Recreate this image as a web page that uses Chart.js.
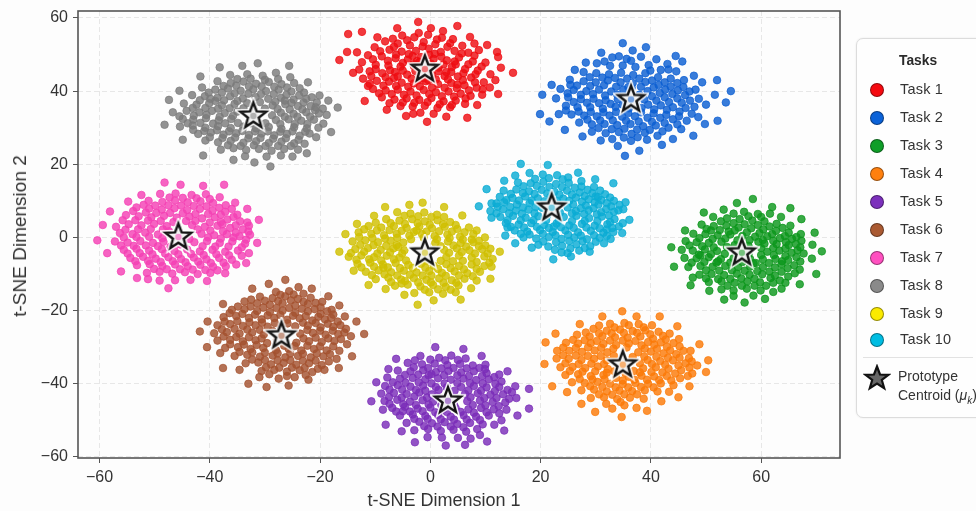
<!DOCTYPE html>
<html>
<head>
<meta charset="utf-8">
<title>t-SNE prototypes</title>
<script src="https://cdn.jsdelivr.net/npm/chart.js@4"></script>
<style>
  html, body { margin: 0; padding: 0; background: #fdfdfd; overflow: hidden; }
  #wrap { position: relative; width: 976px; height: 511px; overflow: hidden; font-family: "Liberation Sans", Arial, sans-serif; filter: blur(0.55px); }
  #grafico { position: absolute; left: 0; top: -8px; }
  .eixoTitulo { position: absolute; color: #333; white-space: nowrap; transform: translate(-50%, -50%); }
  #tituloX { left: 444px; top: 500px; font-size: 18px; }
  #tituloY { left: 20px; top: 236px; font-size: 19px; transform: translate(-50%, -50%) rotate(-90deg); }
  #legenda { position: absolute; left: 856px; top: 38px; width: 130px; height: 378px; border: 1px solid #dcdcdc; border-radius: 7px; background: #fefefe; box-shadow: 0 0 2px #e8e8e8; color: #333; }
  #legenda div { position: absolute; white-space: nowrap; }
  .titulo { left: 42px; top: 12px; font-size: 15px; font-weight: bold; color: #2b2b2b; transform: scaleX(0.92); transform-origin: left; }
  .bola { left: 13px; width: 12px; height: 12px; border-radius: 50%; border: 1px solid rgba(0,0,0,0.4); }
  .rotulo { left: 43px; font-size: 14.5px; letter-spacing: 0.2px; }
  .linha { left: 6px; width: 110px; top: 318px; height: 1px; background: #e2e2e2; }
  .proto { left: 41px; font-size: 14px; }
  #legenda svg { position: absolute; left: 6px; top: 325px; }
</style>
</head>
<body>
<div id="wrap">
  <canvas id="grafico" width="976" height="519"></canvas>
  <div class="eixoTitulo" id="tituloX">t-SNE Dimension 1</div>
  <div class="eixoTitulo" id="tituloY">t-SNE Dimension 2</div>
  <div id="legenda"></div>
</div>
<script>
/* global Chart */
const nomes = ["Task 1", "Task 2", "Task 3", "Task 4", "Task 5", "Task 6", "Task 7", "Task 8", "Task 9", "Task 10"];
const cores = ["#ee0d12", "#0c5fd2", "#0c971c", "#fb7a08", "#7a2db8", "#a4522f", "#f441b4", "#7b7b7b", "#d0bf00", "#0bacd4"];
const coresLegenda = ["#f50a10", "#0b62d8", "#0f9e28", "#ff800f", "#7c30bc", "#aa5a32", "#ff50c0", "#8a8a8a", "#fbea00", "#00bde2"];
const xTicks = [-60, -40, -20, 0, 20, 40, 60];
const yTicks = [-60, -40, -20, 0, 20, 40, 60];
const centroidesX = [-1, 36.4, 56.5, 34.9, 3.2, -27, -45.7, -32.1, -1, 22];
const centroidesY = [46.3, 38, -3.9, -34.5, -44.4, -26.6, 0.4, 33.5, -3.9, 8.4];

const task1 = [[-2.2,58.9],[4.9,57.8],[0.1,57.2],[-6,57.2],[-12.4,56.2],[-14.9,55.6],[2.3,56.4],[7.2,54.8],[10.3,52.6],[12.1,50.7],[12.3,49.3],[15,45],[12.3,39.2],[9.4,39],[8.5,36.2],[6.7,32.7],[2.9,33],[-0.6,31.6],[-4.4,33.2],[-3.1,33.8],[-7.9,34.9],[-11.9,37.3],[-15.1,50.7],[-16.5,48.5],[-14,45],[-11.3,41.4],
[-5.1,55.2],[-2.9,54.7],[-0.4,55.4],[2.1,54.6],[-8.2,53.6],[-5.9,53],[-3.7,52.5],[-1.2,53.4],[0.9,52.8],[3.6,53.1],[5.8,52.4],[-10.1,52],[-7.4,51.3],[-5.2,50.8],[-2.6,51],[-0.3,51.6],[1.9,50.7],[4.4,51],[6.9,50.5],[8.8,51.2],[-11.3,49.8],[-8.8,49.5],[-6.3,49],[-4.1,48.6],[-1.7,49.3],[0.6,48.8],[3,48.4],[5.2,49.2],[7.7,48.1],[10,47.8],[-12.4,47.9],[-9.9,47.2],[-7.6,47],[-5.4,46.7],[-3,46.9],[1.5,46.4],[3.9,46.6],[6.3,46],[8.6,45.6],[10.9,44.6],[-11,45.4],[-8.7,44.9],[-6.4,45.2],[-4.2,44.5],[-1.9,44.2],[0.3,44.4],[2.6,44.1],[5,44],[7.4,43.7],[9.7,42.4],[-12.2,43.4],[-9.7,42.8],[-7.5,42.6],[-5.2,42.3],[-3,42.1],[-0.8,42.7],[1.4,41.9],[3.8,42.2],[6.2,41.6],[8.4,40.9],[10.8,41],[-10.4,40.6],[-8.1,40.2],[-5.9,40.4],[-3.6,39.9],[-1.2,40.3],[1,39.7],[3.3,39.9],[5.5,39.3],[7.3,38.7],[-8.8,38.3],[-6.5,37.7],[-4.3,38],[-2,37.6],[0.2,38.1],[2.4,37.2],[4.6,37.4],[6.3,36.5],[-5.4,35.9],[-3.2,35.8],[-1,36],[1.3,35.4],[3.6,35.6],[-1.8,34.1],[0.6,33.8],[-9.6,54.7],[8,53],[-13.3,50.6],[-12.9,45.9],[12.8,46.4],[11.8,43],[-0.9,46.6],[-3.2,49.6],[2.9,45.2],[-6.6,43.6],[-2,47.9],[4.6,47.3],[-0.3,43],
[-6.8,54.3],[-4.2,53.9],[-2.1,55.9],[1.2,54.1],[4.1,54.2],[-9.1,50.9],[-6.6,52.1],[-3.9,50.1],[-1.4,52.2],[0.8,50.2],[3.1,52.1],[5.7,50.3],[8,49.7],[-10.4,48.7],[-7.7,48.3],[-5,47.7],[-2.4,48.2],[0.1,47.5],[2.4,47.3],[4.4,48.1],[6.9,47.3],[9.3,46.7],[-9.9,46],[-7.3,45.7],[-5,45.6],[-2.7,45.5],[-0.6,45],[1.5,45.4],[3.8,45.2],[6,44.9],[8.2,44.6],[-10.7,44.1],[-8.1,43.8],[-5.9,44],[-3.4,43.4],[-1.2,43.5],[1,43.2],[3.2,43.2],[5.9,43],[8.1,42.4],[-11,42],[-8.5,41.5],[-6.2,41.4],[-4,41.2],[-1.9,41.3],[0.3,41],[2.6,40.9],[4.8,40.8],[7,40.2],[9.5,40.5],[-9.3,39.4],[-7,39.2],[-4.8,39],[-2.5,38.8],[-0.2,39.2],[2.1,38.6],[4.3,38.5],[6.4,38],[-7.4,36.7],[-5,36.9],[-2.9,36.8],[-0.5,37],[1.7,36.4],[3.9,36.2],[-3,47.4],[-0.2,49.9],[2,49.4],[-6.2,50],[4.9,41.8],[-2.2,43]];
const task2 = [[34.9,53.1],[39.1,52],[36.7,51.1],[31,50.5],[44.5,49.6],[45.7,48.1],[28.2,47.8],[26.2,45.8],[22,41.7],[20.3,39],[19.9,33.7],[21.6,31.7],[23.3,33.7],[24.4,29.4],[27.6,27.6],[30.9,26.5],[34,25],[35.3,22.3],[37.9,23.7],[42,25.3],[44,26.9],[47.7,27.8],[49.8,31],[52.1,31.9],[53.6,36.9],[54.5,40],[51.6,39],[52,43],[49.3,42.4],[47.8,44.2],
[33,49.2],[35.6,48.8],[38.2,49.4],[41,48.7],[43,47.4],[30.2,47.6],[32.6,46.9],[34.9,47],[37.2,46.6],[39.6,47.1],[41.8,45.8],[44.6,45.4],[27.8,45.2],[30.1,44.9],[32.4,44.6],[34.6,45],[36.8,44.4],[39,44.9],[41.3,43.8],[43.6,43.4],[46,43],[25.3,43.1],[27.8,42.7],[30,42.4],[32.2,42.9],[34.5,42.4],[36.7,42.2],[39,42.5],[41.4,41.7],[43.6,41.2],[45.9,41.1],[48.1,40.4],[23.6,40.6],[26,40.3],[28.3,40],[30.6,40.4],[32.8,39.9],[35,40.4],[39.4,40],[41.6,39.5],[43.9,39.2],[46.2,38.9],[48.7,37.9],[22.8,38],[25,38.3],[27.3,37.8],[29.6,37.9],[31.8,37.5],[34,37.8],[38.8,37.7],[41,37.4],[43.3,37],[45.6,36.8],[47.9,35.7],[50,36.3],[24.6,36],[26.7,35.6],[29,35.6],[31.3,35.2],[33.6,35.7],[36,35.3],[38.3,35.4],[40.6,35],[42.9,34.9],[45.2,34.4],[47.4,33.8],[25.6,33.6],[27.9,33.3],[30.2,33.1],[32.5,33.3],[34.8,33],[37.1,33.1],[39.4,32.7],[41.7,32.7],[44,32.3],[46.5,31.9],[27,31.4],[29.3,30.9],[31.6,31],[33.9,30.7],[36.3,31],[38.6,30.4],[40.9,30.6],[43.2,30],[45.5,29.6],[29.3,28.9],[31.8,28.5],[34.2,28.8],[36.5,28.3],[38.9,28.6],[41.2,27.8],[33,26.9],[36.4,26.4],[39.3,26.7],[36.5,40.9],[35.9,37],[25.4,41.7],[48.6,32.9],
[31.6,48.1],[34.2,49.5],[36.4,48.3],[39.9,45.6],[43.2,45.9],[28.9,43.8],[31.2,43.7],[33.5,43.6],[35.7,43.4],[37.9,43.4],[40.2,42.9],[42.5,42.4],[44.8,42.2],[26.6,41.5],[29,41.4],[31.5,41.6],[33.7,41.2],[35.9,41.1],[38.2,41.2],[40.5,41],[42.6,40.4],[44.9,40.2],[47,39.9],[24.9,39.4],[27.3,39],[29.5,39.2],[31.7,38.8],[33.9,39],[36.1,39.2],[37.9,39],[40.2,38.6],[42.5,38.3],[44.8,38],[47.1,37.4],[26,37],[28.4,36.8],[30.6,36.7],[32.7,36.5],[34.9,36.3],[37.2,36.6],[39.5,36.3],[41.8,36.1],[44,35.6],[46.3,35.4],[24.6,34.7],[26.9,34.4],[29.1,34.3],[31.4,34.2],[33.7,34.3],[35.9,34],[38.2,34.2],[40.5,33.9],[42.8,33.5],[45.1,33.1],[28.5,32.2],[30.8,32],[33.1,32],[35.5,31.9],[37.8,31.7],[40.2,31.6],[42.5,31.3],[44.8,30.9],[30.5,29.9],[32.9,29.6],[35.2,29.7],[37.5,29.5],[39.8,29.4],[42.1,29],[35.1,27.3],[37.6,27.4]];
const task3 = [[58.5,10.5],[55.6,9.4],[65.3,8],[62,8.3],[49.6,6.8],[67.3,5],[69.7,1.3],[46.2,1.9],[43.7,-2.7],[69.3,-2],[71,-3.8],[44.2,-8],[69.2,-5.8],[70,-10],[67,-12.8],[47.2,-13.1],[50.6,-14.6],[53.3,-17],[57,-17.8],[60.7,-16.8],[63.7,-14],[47.6,-11],
[53.2,7.6],[56.9,7],[59.4,6.4],[61.6,6.5],[63.6,5.6],[51.3,5.6],[53.8,5.2],[56.1,5],[58.4,4.6],[60.6,4.4],[62.8,3.7],[65.3,3.2],[49.2,3.5],[51.4,3.1],[53.7,3.2],[55.9,2.7],[58.2,2.5],[60.4,2.2],[62.7,1.8],[65,1.3],[67.2,0.9],[47.7,1],[49.9,0.9],[52.1,0.6],[54.4,0.8],[56.6,0.4],[58.9,0.2],[61.1,0.3],[63.4,-0.2],[65.6,-0.4],[67.3,-0.9],[46.3,-1],[48.3,-1.3],[50.5,-1.5],[52.8,-1.2],[60.6,-1.7],[62.8,-1.8],[65,-2.1],[67.1,-2.7],[45.6,-3.4],[47.6,-3.6],[49.8,-3.3],[52,-3.7],[61.1,-3.9],[63.3,-3.6],[65.5,-4.2],[67.7,-4.4],[46.1,-5.6],[48.3,-5.7],[50.5,-5.4],[52.7,-5.9],[55,-5.7],[58,-5.9],[60.3,-6],[62.6,-5.9],[64.9,-6.2],[67.1,-6.6],[46.8,-8.1],[49,-7.8],[51.2,-8],[53.5,-7.8],[55.8,-8.1],[58,-8],[60.3,-8.1],[62.5,-8.2],[64.8,-8.4],[67,-8.8],[48.8,-10.2],[51,-10],[53.3,-10.3],[55.6,-9.9],[57.9,-10.2],[60.2,-10.1],[62.5,-10.4],[64.9,-10.7],[50.5,-12.2],[52.8,-12],[55.2,-12.4],[57.5,-12],[59.8,-12.3],[62.2,-12.4],[64.4,-12.4],[52.8,-14.2],[55,-14.5],[57.4,-14],[59.9,-14.5],[62.2,-14.9],[55,-16],[58.6,-15.9],[49,-4.9],[55.2,1.9],[59.5,-1.2],[53.8,-2.6],[58.6,-7.1],[56.4,-11.2],[61.7,-11.1],[51.9,-6.9],[63.7,-7.3],[50.9,1.9],
[55,6.5],[57.7,5.8],[60,5.6],[52.7,4.4],[55,3.9],[57,3.6],[59.4,3.4],[61.5,3],[63.9,2.6],[50.1,2.3],[52.5,2],[54.1,1.6],[57.4,1.4],[59.7,1.2],[62,0.9],[64.3,0.4],[66.4,0.1],[48.8,-0.2],[51.2,-0.4],[53.5,-0.3],[55.7,-0.8],[57.9,-0.7],[60.3,-0.7],[62.2,-0.9],[64.5,-1.3],[66.3,-1.8],[47,-2.2],[49.3,-2.4],[51.4,-2.7],[55.2,-2.1],[57.7,-2.3],[60,-2.9],[62.2,-2.9],[64.4,-3],[66.6,-3.5],[48.7,-4.7],[50.9,-4.6],[53.4,-4.5],[55.5,-4.4],[57.7,-4.6],[60,-4.8],[62.3,-4.8],[64.4,-5.1],[66.4,-5.4],[47.4,-6.9],[49.7,-6.7],[52.2,-6.5],[54.4,-6.9],[56.6,-6.7],[59,-7],[61.4,-7],[63.8,-6.5],[66,-7.6],[50,-9],[52.4,-9.1],[54.7,-9],[57,-9.1],[59.3,-9.2],[61.5,-9.3],[63.7,-9.4],[66.1,-9.8],[50,-11.2],[52.2,-11.4],[54.4,-11.3],[58.8,-11.3],[60.9,-13.2],[63.4,-11.8],[53.9,-13.2],[56.5,-13.2],[58.8,-13.2]];
const task4 = [[34.8,-20.2],[31.2,-21.6],[37.4,-21.6],[41.6,-21.6],[27.1,-23.7],[44.8,-24.3],[22.7,-26.3],[20.9,-28.7],[48.8,-29.2],[20.7,-34.6],[50.4,-33.6],[50,-36.8],[22.1,-40.7],[24.8,-42.3],[47,-40.7],[45,-43.7],[27.4,-45.5],[29.9,-47.7],[34.7,-49.1],[39.3,-47.4],[33,-46.8],[37.4,-46.6],[41.9,-44.8],
[32.6,-23.6],[35.2,-23.4],[37.8,-23.7],[40.2,-24],[29.6,-25],[32,-25.5],[34.4,-25.2],[36.7,-25.6],[39,-25.4],[41.4,-25.8],[43.4,-26.3],[26.6,-26.6],[28.9,-27.1],[31.2,-27],[33.5,-27.3],[35.8,-27.4],[38.1,-27.1],[40.4,-27.7],[42.7,-27.9],[45.1,-27.8],[24.6,-28.8],[26.8,-29],[29.1,-28.9],[31.4,-29.1],[33.7,-29.4],[36,-29],[38.3,-29.5],[40.6,-29.3],[42.9,-29.9],[45.2,-29.8],[47.2,-31],[23,-31],[25.2,-31],[27.5,-31.3],[29.8,-30.9],[32.1,-31.4],[37.7,-31.4],[40,-31.2],[42.3,-31.7],[44.6,-31.9],[46.9,-33],[22.9,-33.1],[25.1,-33.2],[27.4,-33.5],[29.7,-33.2],[32,-33.6],[39.4,-33.5],[41.7,-33.8],[44,-33.6],[46.3,-34.4],[48.4,-35],[23.6,-35.5],[25.8,-35.4],[28.1,-35.7],[30.4,-35.3],[32.2,-36],[38.6,-35.8],[40.9,-35.5],[43.2,-35.9],[45.5,-36.3],[47.5,-37.2],[24.5,-37.6],[26.8,-37.4],[29.1,-37.9],[31.4,-37.6],[33.7,-38.4],[36,-38.1],[38.3,-37.8],[40.6,-38],[42.9,-37.9],[45.3,-38.5],[25.7,-39.6],[28,-39.8],[30.3,-39.5],[32.6,-40],[34.9,-40.1],[37.2,-39.8],[39.5,-40],[41.8,-39.9],[44.1,-40.4],[27.4,-41.8],[29.7,-41.6],[32,-42.1],[34.3,-41.9],[36.6,-42],[38.9,-41.8],[41.2,-42.1],[43.3,-42.2],[29.1,-43.9],[31.5,-43.7],[33.9,-44.2],[36.2,-43.8],[38.7,-44.1],[31.9,-45.5],[35.2,-45.9],[33.4,-36.6],[36.9,-36.5],[26.4,-32.3],[43.1,-32.9],
[30.6,-24.1],[33.4,-24.6],[36,-24],[38.7,-24.6],[28.2,-26],[30.6,-26.2],[32.9,-26.2],[35.1,-26.1],[37.5,-26.1],[39.9,-26.5],[42.2,-26.9],[25.9,-28],[28,-28.1],[30.2,-28.3],[32.6,-28.2],[34.9,-28.2],[37.2,-28.3],[39.5,-28.6],[41.8,-28.7],[44.1,-28.9],[24.1,-30.1],[26.4,-30.2],[28.6,-30.1],[31,-30.2],[33.2,-30.4],[35.6,-30.1],[38.9,-30.4],[41.1,-30.5],[43.5,-30.9],[45.9,-31],[24.1,-32.2],[28.6,-32.4],[30.9,-32.4],[33.3,-32.4],[36.7,-32.7],[38.8,-32.6],[41,-32.6],[45.2,-32.9],[47.4,-33.9],[24.5,-34.4],[26.9,-34.6],[29.2,-34.5],[31.5,-34.6],[38,-34.4],[40.2,-34.6],[42.6,-34.8],[45,-35],[47,-35.6],[25.3,-36.5],[27.6,-36.7],[29.9,-36.6],[32,-37],[35.4,-37.1],[38,-36.9],[40.1,-36.8],[42.1,-36.9],[44.4,-37.2],[46.7,-37.9],[27.1,-38.7],[29.4,-38.8],[31.6,-38.8],[34.9,-39.1],[37,-38.9],[39.3,-38.9],[41.5,-39],[43.7,-39.1],[29,-40.7],[31.2,-40.9],[33.6,-41],[35.9,-41],[38.2,-40.9],[40.5,-41],[30.6,-42.9],[33,-43],[35.2,-42.9],[37.5,-42.9],[34.5,-45]];
const task5 = [[0.9,-30],[6,-30.5],[-6.2,-33.2],[9.3,-32.4],[-7.6,-36],[14,-36.6],[-9.8,-39.6],[17.9,-41.4],[15.4,-40.7],[-10.7,-44.8],[17.9,-46.8],[-8.6,-47.1],[15.8,-48.7],[-8.1,-51.2],[13.4,-52.8],[10.3,-55.8],[9,-54],[6.3,-56.7],[2.8,-56.9],[-2.8,-56],[-5.2,-53],
[-1.8,-32.4],[1.6,-32.9],[3.8,-32.3],[6.4,-33.1],[-4.1,-34.3],[-1.5,-34.7],[0.8,-34.5],[3.1,-34.9],[5.4,-34.6],[7.7,-35],[10,-34.8],[-5.9,-36.4],[-3.6,-36.6],[-1.3,-36.3],[1,-36.8],[3.3,-36.5],[5.6,-36.9],[7.9,-36.6],[10.2,-37.1],[12.5,-37.5],[-7.8,-38.3],[-5.5,-38.6],[-3.2,-38.4],[-0.9,-38.8],[1.4,-38.5],[3.7,-38.9],[6,-38.6],[8.3,-39],[10.6,-38.8],[12.9,-39.4],[-8.2,-40.6],[-5.9,-40.4],[-3.6,-40.8],[-1.3,-40.5],[1,-40.9],[5.6,-40.9],[7.9,-40.6],[10.2,-41],[12.5,-40.9],[14.8,-42.3],[-8.9,-42.7],[-6.6,-42.5],[-4.3,-42.8],[-2,-42.4],[0.3,-42.9],[6.3,-42.8],[8.6,-42.6],[10.9,-43],[13.2,-42.9],[15.6,-43.9],[-8.3,-44.7],[-6,-44.4],[-3.7,-44.9],[-1.4,-44.5],[0.5,-44.9],[6.7,-44.8],[9,-44.6],[11.3,-45],[13.6,-45.1],[-6.9,-46.6],[-4.6,-46.3],[-2.3,-46.8],[0,-46.5],[2.3,-47],[4.6,-46.7],[6.9,-47],[9.2,-46.6],[11.5,-47],[13.8,-47.1],[-5.5,-48.7],[-3.2,-48.4],[-0.9,-48.8],[1.4,-48.5],[3.7,-49],[6,-48.6],[8.3,-49],[10.6,-48.7],[12.9,-50],[-4.3,-50.7],[-2,-50.4],[0.3,-50.8],[2.6,-50.5],[4.9,-51],[7.2,-50.7],[9.5,-51.1],[11.6,-51.2],[-2.9,-52.7],[-0.4,-52.4],[1.9,-52.9],[4.2,-52.6],[6.5,-53.1],[8.5,-52.4],[-0.5,-54.6],[2.1,-54.7],[5,-54.8],[7.3,-55],[3.5,-43.2],[-0.3,-37.7],[4.4,-41.9],[-5,-47.5],[9.9,-36],[-2.6,-41.7],
[-2.8,-33.6],[0,-33.4],[2.7,-33.6],[5,-33.5],[-3,-35.5],[-0.4,-35.7],[2,-35.8],[4.2,-35.7],[6.6,-35.8],[8.9,-35.7],[-4.6,-37.6],[-2.2,-37.5],[0.2,-37.4],[2.5,-37.7],[4.9,-37.7],[7,-37.9],[9.4,-37.9],[11.6,-38.2],[-6.8,-39.6],[-4.5,-39.7],[-2.1,-39.6],[0.2,-39.9],[2.6,-39.9],[4.9,-39.8],[7.2,-39.8],[9.5,-39.9],[11.8,-40],[-7.4,-41.6],[-5.1,-41.6],[-0.9,-41.9],[1.5,-41.7],[3,-41],[6.9,-41.8],[9.2,-41.9],[11.7,-42],[14,-41.7],[-7.5,-43.6],[-5.2,-43.8],[-2.9,-43.5],[-0.6,-43.8],[1.2,-43.5],[7.3,-43.7],[9.8,-43.9],[12,-43.9],[14.3,-44.1],[-7.4,-45.5],[-4.9,-45.6],[-2.6,-45.8],[-0.3,-45.7],[2,-45.8],[4.3,-45.7],[7.7,-45.8],[10,-45.9],[12.4,-46.1],[-6.2,-47.6],[-3.7,-47.6],[-1.4,-47.5],[0.9,-47.8],[3,-47.7],[5.5,-47.7],[7.9,-47.9],[10.2,-47.8],[12.5,-48.1],[-2.9,-49.6],[-0.5,-49.6],[1.9,-49.7],[4.3,-49.8],[6.6,-49.8],[9,-49.9],[-1.1,-51.6],[1.3,-51.7],[3.7,-51.7],[6,-51.9]];
const task6 = [[-26.3,-11.6],[-29.3,-12.7],[-32.3,-14],[-21.5,-14],[-23.9,-13.6],[-37.6,-18.2],[-18.5,-16.1],[-16.5,-18.6],[-40.4,-23],[-13.4,-23],[-41.8,-25.7],[-12,-26.4],[-40.5,-30],[-14.2,-32.5],[-37.6,-35.7],[-16.6,-35.7],[-33,-40],[-29.7,-40.9],[-25.7,-40.5],[-22.1,-38.9],[-34.6,-36.2],[-38.1,-31.6],
[-28,-14.9],[-25.6,-14.7],[-23,-15.4],[-30.9,-16.2],[-28.6,-16.6],[-26.3,-16.1],[-24,-16.8],[-21.7,-16.5],[-19.6,-17.6],[-33.7,-17.5],[-31.4,-18],[-29.1,-18.4],[-26.8,-18],[-24.5,-18.6],[-22.2,-18.2],[-19.9,-19.1],[-17.9,-19.8],[-36,-19.8],[-33.7,-19.6],[-31.4,-20.1],[-29.1,-20.4],[-26.8,-20],[-24.5,-20.6],[-22.2,-20.2],[-19.9,-20.9],[-17.6,-21.1],[-15.5,-21.6],[-37.5,-21.8],[-35.2,-21.5],[-32.9,-22],[-30.6,-22.4],[-28.3,-22],[-26,-22.5],[-23.7,-22.1],[-21.4,-22.7],[-19.1,-22.4],[-16.8,-23],[-38.6,-24],[-36.3,-23.7],[-34,-24.2],[-31.7,-24],[-29.5,-24.4],[-24.5,-24.3],[-22.2,-24.1],[-19.9,-24.6],[-17.6,-24.4],[-15.3,-25],[-39.2,-26.2],[-36.9,-25.9],[-34.6,-26.3],[-32.3,-26],[-30.2,-26.5],[-23.6,-26.3],[-21.3,-26.1],[-19,-26.6],[-16.7,-26.4],[-14.4,-27],[-38.6,-28.2],[-36.3,-28],[-34,-28.4],[-31.7,-28.1],[-29.6,-28.9],[-24.3,-28.8],[-22,-28.4],[-19.7,-28.6],[-17.4,-28.3],[-15.1,-29.2],[-37.2,-30.2],[-34.9,-30],[-32.6,-30.5],[-30.3,-30.2],[-28,-30.8],[-25.7,-30.4],[-23.4,-30.9],[-21.1,-30.5],[-18.8,-30.9],[-16.5,-31],[-35.5,-32.4],[-33.2,-32.1],[-30.9,-32.6],[-28.6,-32.3],[-26.3,-32.8],[-24,-32.4],[-21.7,-32.8],[-19.4,-32.5],[-17,-33.2],[-33.5,-34.4],[-31.2,-34.2],[-28.9,-34.7],[-26.6,-34.3],[-24.3,-34.8],[-22,-34.4],[-19.7,-34.9],[-30.6,-36.5],[-28.3,-36.2],[-26,-36.7],[-23.7,-36.3],[-21.4,-36.8],[-19.2,-36.2],[-31,-38.2],[-27.5,-38.6],[-24.6,-38.2],[-27.1,-24.5],[-27.8,-27.9],
[-27.2,-15.7],[-24.8,-15.6],[-32.5,-17],[-30,-17.3],[-27.6,-17.4],[-25.3,-17.2],[-23,-17.6],[-20.8,-17.9],[-34.9,-18.9],[-32.6,-18.9],[-30.3,-19.2],[-27.9,-19.3],[-25.6,-19.3],[-23.3,-19.5],[-21,-19.6],[-18.7,-20.2],[-36.4,-20.7],[-34.1,-20.9],[-31.8,-21.1],[-29.5,-21.3],[-27.2,-21.2],[-24.9,-21.4],[-22.6,-21.5],[-20.3,-21.7],[-18,-22],[-37.3,-23],[-35,-22.9],[-32.8,-23.2],[-30.5,-23.3],[-28.2,-23.4],[-25.9,-23.5],[-23.1,-23.3],[-20.8,-23.4],[-18.6,-23.6],[-16.3,-24],[-37.8,-25.1],[-35.5,-25],[-33.2,-25.2],[-30.9,-25.3],[-28.6,-25.6],[-22.3,-25.3],[-20,-25.5],[-17.7,-25.5],[-15.6,-26],[-37.5,-27.1],[-35.2,-27.2],[-32.9,-27.3],[-30.6,-27.6],[-23,-27.6],[-20.8,-27.4],[-18.5,-27.6],[-16.2,-27.8],[-36.3,-29.2],[-33.8,-29.3],[-31.5,-29.4],[-26.5,-29.6],[-24.6,-29.7],[-22.3,-29.6],[-20,-29.8],[-17.6,-29.8],[-34.6,-31.3],[-32.3,-31.4],[-30,-31.5],[-27.7,-31.7],[-25.4,-31.7],[-23.1,-31.8],[-20.6,-31.7],[-18.2,-31.9],[-32.3,-33.4],[-30,-33.5],[-27.7,-33.6],[-25.4,-33.6],[-23.1,-33.7],[-20.8,-33.7],[-18.4,-33.9],[-29.8,-35.5],[-27.4,-35.6],[-25.1,-35.6],[-22.8,-35.7],[-20.4,-35.9],[-29.2,-37.4],[-26,-37.9],[-22.6,-37.6]];
const task7 = [[-48.2,15],[-45.3,14.4],[-41.2,14.1],[-37.4,14.4],[-52.4,11.6],[-54.8,9.8],[-58.1,7.1],[-35.4,9.5],[-33.2,7.8],[-59.4,3.4],[-31.1,4.8],[-60.4,-0.8],[-31.4,-1.5],[-58.6,-4.3],[-33.4,-7],[-56.1,-9.3],[-53.2,-11.1],[-47.5,-13.9],[-49.1,-11.8],[-40.5,-11.9],[-37.2,-9.8],[-43.5,-11.6],
[-49,11.9],[-46.2,12],[-43.3,11.6],[-40.7,11.8],[-38.2,11],[-51.1,10],[-48.6,9.7],[-46.3,10.1],[-44,9.6],[-41.7,9.9],[-39.4,9.4],[-37.1,8.8],[-53.3,8.2],[-51,7.9],[-48.7,7.6],[-46.4,8],[-44.1,7.5],[-41.8,7.8],[-39.5,7.3],[-37.2,7],[-35,6.2],[-55.2,6.1],[-52.9,5.8],[-50.6,5.5],[-48.3,5.9],[-46,5.4],[-43.7,5.7],[-41.4,5.2],[-39.1,5.5],[-36.8,4.9],[-34.5,4.4],[-32.9,3.2],[-57,2.9],[-54.7,3.6],[-52.4,3.3],[-50.1,3.7],[-47.8,3.1],[-43.2,3.4],[-40.9,2.9],[-38.6,3.2],[-36.3,2.6],[-34,2.2],[-56.3,1.2],[-54,0.9],[-51.7,1.3],[-49.4,0.8],[-41.5,1],[-39.2,0.6],[-36.9,0.9],[-34.6,0.3],[-32.7,0.7],[-57.2,-1.1],[-54.9,-1.4],[-52.6,-1],[-50.3,-1.5],[-48.4,-1.2],[-42.8,-1.3],[-40.5,-1],[-38.2,-1.5],[-35.9,-1.1],[-33.6,-1.7],[-55.6,-3.4],[-53.3,-3.1],[-51,-3.6],[-48.7,-3.2],[-46.4,-3.7],[-44.1,-3.3],[-41.8,-3.8],[-39.5,-3.4],[-37.2,-3.9],[-34.9,-3.6],[-32.9,-4.3],[-54.4,-5.6],[-52.1,-5.3],[-49.8,-5.8],[-47.5,-5.4],[-45.2,-5.9],[-42.9,-5.5],[-40.6,-6],[-38.3,-5.6],[-36,-6.1],[-53.2,-7.6],[-50.9,-7.3],[-48.6,-7.8],[-46.3,-7.4],[-44,-7.9],[-41.7,-7.5],[-39.4,-8],[-37.1,-7.9],[-51.4,-9.7],[-49.1,-9.4],[-46.8,-9.9],[-44.5,-9.5],[-42.2,-10],[-39.9,-9.7],[-46.3,-11.7],[-51.2,-11.4],[-47.4,1.7],[-43.7,-0.4],[-49.7,6.7],[-42.6,4.5],[-45.4,-1.9],[-38,4.2],
[-47.3,10.9],[-44.9,10.8],[-42.4,10.7],[-40,10.5],[-52,8.9],[-49.9,8.7],[-47.5,8.8],[-45.2,8.7],[-42.9,8.6],[-40.6,8.5],[-38.3,8.1],[-36,7.8],[-53.9,7.2],[-51.6,6.8],[-47.2,6.7],[-44.9,6.6],[-42.6,6.4],[-40.3,6.4],[-38,6.2],[-35.7,5.6],[-55.8,4.7],[-53.5,4.7],[-51.2,4.6],[-48.9,4.5],[-46.6,4.2],[-44.3,4.5],[-40,4.1],[-37.7,3.6],[-35.3,3.3],[-33.2,4.1],[-55.3,2.1],[-53,2.2],[-50.7,2.3],[-48.5,2.2],[-42.2,2.2],[-39.9,1.9],[-37.6,1.7],[-35.3,1.3],[-33,1.6],[-55.6,0],[-53.3,0.1],[-51,0.2],[-48.6,-0.2],[-40.3,0],[-38,-0.3],[-35.7,0],[-33.4,-0.6],[-56.1,-2.2],[-53.8,-2.3],[-51.6,-2.2],[-49.4,-2.4],[-47.1,-2.5],[-41.3,-2.4],[-39,-2.5],[-36.6,-2.5],[-34.2,-2.7],[-54.9,-4.4],[-52.7,-4.3],[-50.4,-4.6],[-48.1,-4.4],[-45.7,-4.6],[-43.4,-4.5],[-41.1,-4.8],[-38.8,-4.6],[-36.5,-4.9],[-34.2,-5],[-53.5,-6.5],[-51.2,-6.4],[-48.9,-6.7],[-46.7,-6.5],[-44.4,-6.8],[-42.1,-6.6],[-39.8,-7],[-37.5,-6.9],[-35.2,-7.4],[-50.1,-8.6],[-47.8,-8.7],[-45.4,-8.7],[-43.1,-8.8],[-40.8,-8.9],[-38.6,-9]];
const task8 = [[-31.3,47.6],[-34.1,46.9],[-38.2,46.5],[-25.6,46.9],[-41.7,44],[-22.2,42.4],[-45.5,40.1],[-20.1,38.8],[-47.4,37.6],[-18.5,37.4],[-16.8,35.5],[-46.7,34.2],[-48.2,30.8],[-18.8,33.5],[-18,28.8],[-44.9,26.7],[-41.2,22.4],[-20.7,27.4],[-22.4,23],[-25,22.1],[-29,19.4],[-31.9,20.5],[-35.7,21.2],
[-36.3,44.4],[-33.2,44.6],[-30.4,44.2],[-28,45],[-25.4,43.8],[-38.6,42.7],[-36.2,42.2],[-33.9,42.6],[-31.6,42],[-29.3,42.5],[-27,41.9],[-24.7,42.2],[-41.4,41],[-39,40.4],[-36.7,40.7],[-34.4,40.1],[-32.1,40.5],[-29.8,40],[-27.5,40.4],[-25.2,39.9],[-22.9,39.6],[-43.2,38.9],[-40.9,38.6],[-38.6,38.2],[-36.3,38.6],[-34,38],[-31.7,38.4],[-29.4,37.9],[-27.1,38.2],[-24.8,37.7],[-22.5,37.9],[-20.6,36.9],[-44.7,36.6],[-42.4,36.3],[-40.1,36.7],[-37.8,36.1],[-35.5,36.5],[-28.6,36.1],[-26.3,36.4],[-24,35.9],[-21.7,35.9],[-19.5,35.2],[-44.9,32.4],[-44.2,34.6],[-41.9,34.2],[-39.6,34.6],[-37.3,34],[-27.1,34.1],[-24.8,33.8],[-22.5,34.2],[-20.2,33.9],[-43,32.2],[-40.7,32.6],[-38.4,32],[-36.1,32.4],[-28,32.1],[-25.7,32.3],[-23.4,31.9],[-21.1,32.2],[-19.4,31.1],[-45.4,30.3],[-43.1,30.6],[-40.8,30],[-38.5,30.4],[-36.2,29.9],[-33.9,30.3],[-31.6,29.8],[-29.3,30.2],[-27,29.7],[-24.7,30.1],[-22.4,29.8],[-20.3,30],[-42.1,28.3],[-39.8,28.7],[-37.5,28.1],[-35.2,28.5],[-32.9,28],[-30.6,28.4],[-28.3,27.9],[-26,28.3],[-23.7,27.8],[-21.9,28.4],[-40.8,26.5],[-38.5,26],[-36.2,26.4],[-33.9,25.9],[-31.6,26.3],[-29.3,25.8],[-27,26.2],[-24.7,25.7],[-22.8,25.6],[-38,24],[-35.7,24.4],[-33.4,23.9],[-31.1,24.2],[-28.8,23.7],[-26.5,24.2],[-24,24],[-33.6,22.2],[-29.7,22.1],[-27.1,22.4],[-35,34.4],[-26.4,37.4],[-39,37.3],[-33.2,36.7],
[-35,43.3],[-32.6,43.4],[-30,43.1],[-27.6,43.3],[-37.5,41.4],[-35.2,41.5],[-32.9,41.3],[-30.6,41.3],[-28.3,41.2],[-26,41],[-23.7,40.8],[-40.2,39.6],[-37.8,39.6],[-35.5,39.4],[-33,39.3],[-30.7,39.2],[-28.4,39.2],[-26.1,39],[-23.8,38.8],[-21.5,38.3],[-41.8,37.5],[-39.9,37.9],[-37.4,37.5],[-35,37.3],[-30.9,37],[-28.1,37.1],[-25.2,36.8],[-23,36.9],[-20.8,35.6],[-43.1,35.4],[-40.8,35.4],[-38.5,35.2],[-36.4,35.3],[-33.9,35.3],[-30,35.2],[-27.7,35.1],[-25.5,35],[-23.2,35],[-20.9,34.8],[-45.5,33.1],[-42.9,33.3],[-40.6,33.5],[-38.2,33],[-35.8,33.2],[-28.7,33.4],[-26.4,33],[-24.1,33],[-21.8,33],[-44,31.2],[-41.7,31.3],[-39.4,31.1],[-37.2,31.2],[-34.9,31.3],[-32.5,31.2],[-29.9,31.2],[-27.2,31],[-24.6,31],[-22.3,31],[-43,29.4],[-41,29.1],[-38.7,29.3],[-36.5,29],[-34.1,29.1],[-31.8,29],[-29.5,29],[-27.2,28.9],[-25,29],[-22.7,28.9],[-40,27.4],[-37.7,27.2],[-35.4,27.3],[-33,27.1],[-30.8,27.2],[-28.5,27],[-26.2,27.1],[-23.9,26.7],[-36.7,25.2],[-34.4,25],[-32,25.2],[-29.9,25],[-27.6,25],[-25.3,25]];
const task9 = [[-1.4,9.5],[-3.8,8.9],[-8.2,8.3],[2.5,8.3],[-10.2,5.9],[5.8,6],[-13.3,3.7],[-15.4,0.9],[7.8,0.9],[9.9,0],[-16.5,-3.9],[12.6,-3.9],[-13.9,-9.1],[11.1,-8],[10.9,-11.3],[-11.2,-13],[-8.1,-14.1],[-4.7,-15.7],[-2.3,-18.4],[0.6,-17.2],[5.5,-17],
[-6,6.9],[-3.6,6.5],[-1.1,6.8],[1.2,6.2],[-8,5],[-5.6,4.6],[-3.3,5],[-1,4.4],[1.3,4.7],[3.6,4.2],[-11.2,3.1],[-8.9,2.7],[-6.6,3.1],[-4.3,2.6],[-2,3],[0.3,2.5],[2.6,2.9],[4.9,2.3],[7,2.7],[-13,1.4],[-10.7,1],[-8.4,0.6],[-6.1,1],[-3.8,0.5],[-1.5,0.9],[0.8,0.4],[3.1,0.8],[5.4,0.2],[7.5,-0.6],[-14.1,-1.1],[-11.8,-0.8],[-9.5,-1.3],[-7.2,-0.9],[-4.9,-1.4],[0.9,-1.5],[3.2,-1.1],[5.5,-1.6],[7.8,-1.3],[10,-2.2],[-13.6,-3.2],[-11.3,-2.9],[-9,-3.4],[-6.7,-3],[-4.7,-3.5],[2.5,-3.4],[4.8,-3],[7.1,-3.5],[9.4,-3.2],[-14.8,-5.3],[-12.5,-4.9],[-10.2,-5.4],[-7.9,-5],[-5.6,-5.5],[2.9,-5.4],[5.2,-5],[7.5,-5.5],[9.8,-5.2],[11.3,-5.9],[-13.2,-7.2],[-10.9,-6.9],[-8.6,-7.4],[-6.3,-7],[-4,-7.5],[-1.7,-7.2],[0.6,-7.7],[2.9,-7.3],[5.2,-7.8],[7.5,-7.4],[9.8,-7.8],[-11.7,-9.4],[-9.4,-9],[-7.1,-9.5],[-4.8,-9.1],[-2.5,-9.6],[-0.2,-9.2],[2.1,-9.7],[4.4,-9.3],[6.7,-9.8],[9,-9.4],[-9.9,-11.4],[-7.6,-11],[-5.3,-11.5],[-3,-11.1],[-0.7,-11.6],[1.6,-11.2],[3.9,-11.7],[6.2,-11.3],[8.4,-11.8],[-6.4,-13.2],[-4.1,-12.9],[-1.8,-13.4],[0.5,-13],[2.8,-13.5],[5.1,-13.1],[7.4,-13.9],[-2.9,-15.2],[-0.2,-15],[2.3,-15.4],[4.6,-15],[-6.1,-2.1],[-2.5,1.9],[4.1,-6.5],[-8.5,-8.3],[0.2,-10.4],[-5.2,-12.6],
[-4.7,5.9],[-2.2,5.8],[0.2,5.6],[2.5,5.6],[-9.9,4],[-7.2,3.9],[-4.6,3.7],[-2.3,3.9],[-0.1,3.5],[2.3,3.6],[4.6,3.4],[-12,2.2],[-9.7,1.9],[-7.4,2],[-5.2,1.8],[-3,1.5],[-0.7,1.6],[1.6,1.7],[3.9,1.6],[6.2,1.4],[8.4,1.9],[-12.9,0.1],[-10.5,-0.2],[-8.2,-0.3],[-6,-0.1],[-3.5,-0.5],[-1.2,-0.1],[1.2,-0.5],[3.5,-0.2],[5.9,-0.6],[8.8,-0.9],[-12.7,-2],[-10.3,-2.1],[-8,-2.3],[-5.8,-2.6],[1.9,-2.4],[4.2,-2.2],[6.5,-2.5],[8.8,-2.4],[10.9,-3.1],[-14.4,-4.3],[-12,-3.9],[-9.6,-4.4],[-7.3,-4.1],[-5.1,-4.4],[3.4,-4.2],[5.7,-4],[8.1,-4.4],[10.4,-4.4],[-13.4,-6.1],[-11.1,-6],[-8.9,-6.3],[-6.6,-6],[-4.4,-6.3],[-0.7,-6.4],[1.9,-6.4],[5.9,-6.4],[8.4,-6.7],[10.7,-6.9],[-12.5,-8.2],[-10.2,-8],[-7.7,-8.2],[-5.5,-8.4],[-3.2,-8.3],[-0.9,-8.3],[1.4,-8.6],[3.7,-8.4],[6.1,-8.7],[8.4,-8.6],[-10.6,-10.3],[-8.3,-10.1],[-6,-10.4],[-3.7,-10.2],[-1.4,-10.4],[2.8,-10.5],[5.2,-10.4],[7.7,-10.6],[-7.1,-12.2],[-4.6,-11.9],[-2.2,-12.3],[0.1,-12.3],[2.4,-12.4],[4.7,-12.4],[-1,-14.3],[1.4,-14.2],[3.7,-14.3]];
const task10 = [[16.4,20.1],[21.3,19.8],[15.4,16.9],[26.8,17.7],[13.4,15.5],[33.2,14.8],[29.9,15.9],[10.2,13.2],[8.8,8.5],[35.4,9.6],[36.1,4.8],[11.1,5.4],[34.8,1.2],[13.6,0.5],[31.5,-1.6],[15.4,-1.6],[18.4,-2.8],[22.3,-6],[24.9,-4.3],[28.9,-3.9],[21.4,-2.5],
[18,17.6],[20.4,17.2],[23,17],[25,16.4],[27.4,15.4],[15.9,15],[18.2,14.8],[20.5,15.2],[22.8,14.6],[25.1,14.9],[27.4,13.9],[29.7,13.8],[13.3,12.8],[15.6,13.1],[17.9,12.6],[20.2,13],[22.5,12.5],[24.8,12.8],[27.1,12.3],[29.4,12.1],[31.7,11.8],[12.6,11.1],[14.9,10.8],[17.2,11.2],[19.5,10.7],[21.8,11.1],[24.1,10.6],[26.4,10.9],[28.7,10.4],[31,10.2],[33.3,10],[11.1,9.3],[13.4,9.6],[15.7,9],[18,9.4],[25.9,9],[28.2,8.7],[30.5,9],[32.8,8.5],[35,7.7],[10.9,7.2],[13.2,7.7],[15.5,7.3],[17.8,7.6],[26.4,7.2],[28.7,7.4],[31,6.9],[33.3,7],[12.7,5.6],[15,5.9],[17.3,5.4],[19.6,5.8],[24.2,5.6],[26.5,5.9],[28.8,5.3],[31.1,5.7],[33.4,5],[13.7,3.9],[16,3.5],[18.3,3.9],[20.6,3.4],[22.9,3.8],[25.2,3.3],[27.5,3.7],[29.8,3.2],[32.1,3.6],[34.2,3],[15.3,1.9],[17.6,1.6],[19.9,2],[22.2,1.5],[24.5,1.9],[26.8,1.4],[29.1,1.8],[31.4,1.3],[33.2,1.5],[16.9,0],[19.2,-0.3],[21.5,0.1],[23.8,-0.4],[26.1,0],[28.4,-0.5],[30.7,-0.1],[32.7,-0.4],[19.6,-2],[23.9,-2.3],[26.5,-1.9],[29,-2.4],[23.8,-4.1],[27,-3.6],[20.3,8.1],[16.4,1],[30,11.2],[19,16],[12,9.3],[25.5,-5.2],[14,2.7],[32,2.2],[24,15.9],[22.4,3],
[21.5,16.2],[16.9,14],[19.3,14.1],[21.6,13.8],[23.9,13.8],[26.2,13.6],[28.5,13],[30.8,12.8],[14.6,11.9],[16.8,12.1],[18.9,11.9],[21.2,12],[23.4,11.7],[25.7,11.7],[28,11.3],[30.4,11],[32.6,10.9],[13.8,10.2],[16.1,10.1],[18.4,10.1],[20.7,9.9],[23,9.9],[25.2,10],[27.5,9.8],[29.8,9.6],[32,9.4],[34.3,8.9],[12.2,8.4],[14.5,8.3],[16.8,8.2],[19.1,8.3],[24.9,8.2],[27.3,8],[29.6,8],[31.9,7.8],[34.1,7.4],[12,6.6],[14.3,6.6],[16.6,6.5],[18.9,6.6],[21.2,6],[23.5,6.8],[25.7,6.6],[27.9,6.4],[30.2,6.3],[32.4,6],[14,4.7],[16.4,4.7],[18.7,4.7],[21,4.7],[23.3,4.7],[25.7,4.5],[28,4.5],[30.3,4.5],[32.6,4.2],[34.9,3.9],[14.6,2.9],[17,2.7],[19.3,2.9],[21.5,2.6],[23.7,2.8],[26,2.6],[28.3,2.7],[30.7,2.5],[33,2.6],[18,0.8],[20.4,1],[22.7,0.6],[25,0.7],[27.3,0.5],[29.7,0.6],[32,0.4],[20.5,-1.1],[22.8,-1.3],[25.2,-1],[27.6,-1],[30,-1.2],[22.6,-3.4],[25.4,-3],[28,-2.9]];

const tasks = [task1, task2, task3, task4, task5, task6, task7, task8, task9, task10];

function comAlfa(hex, a) {
  var n = parseInt(hex.slice(1), 16);
  return "rgba(" + (n >> 16) + "," + ((n >> 8) & 255) + "," + (n & 255) + "," + a + ")";
}

function caminhoEstrela(ctx, cx, cy, r) {
  ctx.beginPath();
  for (var i = 0; i < 10; i++) {
    var raio = i % 2 === 0 ? r : r * 0.42;
    var ang = -Math.PI / 2 + (i * Math.PI) / 5;
    var px = cx + raio * Math.cos(ang);
    var py = cy + raio * Math.sin(ang);
    if (i === 0) ctx.moveTo(px, py);
    else ctx.lineTo(px, py);
  }
  ctx.closePath();
}

// estrela do centroide: halo branco, contorno preto, miolo claro com a cor da tarefa
function criarEstrela(cor) {
  var c = document.createElement("canvas");
  c.width = 36;
  c.height = 36;
  var ctx = c.getContext("2d");
  ctx.lineJoin = "miter";
  caminhoEstrela(ctx, 18, 19, 13.5);
  ctx.strokeStyle = "rgba(255,255,255,0.9)";
  ctx.lineWidth = 5.5;
  ctx.stroke();
  ctx.fillStyle = "#f2f2f2";
  ctx.fill();
  ctx.strokeStyle = "#141414";
  ctx.lineWidth = 2.4;
  ctx.stroke();
  ctx.beginPath();
  ctx.arc(18, 19, 3.2, 0, Math.PI * 2);
  ctx.fillStyle = comAlfa(cor, 0.55);
  ctx.fill();
  return c;
}

function formatarTick(v) {
  return String(v).replace("-", "\u2212");
}

var moldura = {
  id: "moldura",
  afterDatasetsDraw: function (chart) {
    var a = chart.chartArea;
    var ctx = chart.ctx;
    ctx.save();
    ctx.strokeStyle = "#555";
    ctx.lineWidth = 1.6;
    ctx.strokeRect(a.left, a.top, a.right - a.left, a.bottom - a.top);
    ctx.restore();
  },
};

var datasets = [
  {
    label: "Prototype Centroid",
    data: centroidesX.map(function (x, i) { return { x: x, y: centroidesY[i] }; }),
    pointStyle: cores.map(criarEstrela),
    pointRadius: 18,
  },
];
tasks.forEach(function (pontos, i) {
  datasets.push({
    label: nomes[i],
    data: pontos.map(function (p) { return { x: p[0], y: p[1] }; }),
    backgroundColor: comAlfa(cores[i], 0.82),
    borderColor: comAlfa(cores[i], 0.9),
    borderWidth: 0.8,
    pointRadius: 3.8,
  });
});

function eixo(min, max, ticks) {
  return {
    type: "linear",
    min: min,
    max: max,
    afterBuildTicks: function (scale) {
      scale.ticks = ticks.map(function (v) { return { value: v }; });
    },
    ticks: { color: "#333", font: { size: 16, family: "Liberation Sans" }, padding: 5, maxRotation: 0, callback: formatarTick },
    grid: { color: "#e7e7e7", tickColor: "#555", tickLength: 5, tickBorderDash: [0, 0], lineWidth: 1 },
    border: { display: false, dash: [5, 3] },
  };
}

var eixoX = eixo(-63.9, 74.3, xTicks);
var eixoY = eixo(-60.3, 61.9, yTicks);
eixoX.afterFit = function (scale) { scale.height = 53; };
eixoY.afterFit = function (scale) { scale.width = 78; };

// o layout nao deixa a area subir alem de ~18px, por isso o canvas fica deslocado 8px para cima
new Chart(document.getElementById("grafico"), {
  type: "scatter",
  data: { datasets: datasets },
  options: {
    responsive: false,
    animation: false,
    layout: { padding: { top: 11, right: 136, left: 0, bottom: 0 } },
    plugins: { legend: { display: false }, tooltip: { enabled: false } },
    scales: { x: eixoX, y: eixoY },
  },
  plugins: [moldura],
});

// legenda em HTML: o quadro tem titulo, divisor e a linha do centroide
var legenda = document.getElementById("legenda");
var topos = [44, 72, 100, 128, 156, 184, 212, 240, 268, 294];

function addDiv(classe, texto, topo) {
  var d = document.createElement("div");
  d.className = classe;
  if (texto) d.innerHTML = texto;
  if (topo !== undefined) d.style.top = topo + "px";
  legenda.appendChild(d);
  return d;
}

addDiv("titulo", "Tasks");
nomes.forEach(function (nome, i) {
  addDiv("bola", "", topos[i]).style.background = coresLegenda[i];
  addDiv("rotulo", nome, topos[i] - 2);
});
addDiv("linha");
addDiv("proto", "Prototype", 329);
addDiv("proto", 'Centroid (<i>\u03bc<sub style="font-size:10px">k</sub></i>)', 348);

var svg = document.createElementNS("http://www.w3.org/2000/svg", "svg");
svg.setAttribute("width", "28");
svg.setAttribute("height", "28");
var estrela = document.createElementNS("http://www.w3.org/2000/svg", "polygon");
estrela.setAttribute("points", "14,2.5 17,10.5 25.5,10.8 18.8,16 21.2,24.2 14,19.5 6.8,24.2 9.2,16 2.5,10.8 11,10.5");
estrela.setAttribute("fill", "#666");
estrela.setAttribute("stroke", "#111");
estrela.setAttribute("stroke-width", "2.2");
svg.appendChild(estrela);
legenda.appendChild(svg);
</script>
</body>
</html>
